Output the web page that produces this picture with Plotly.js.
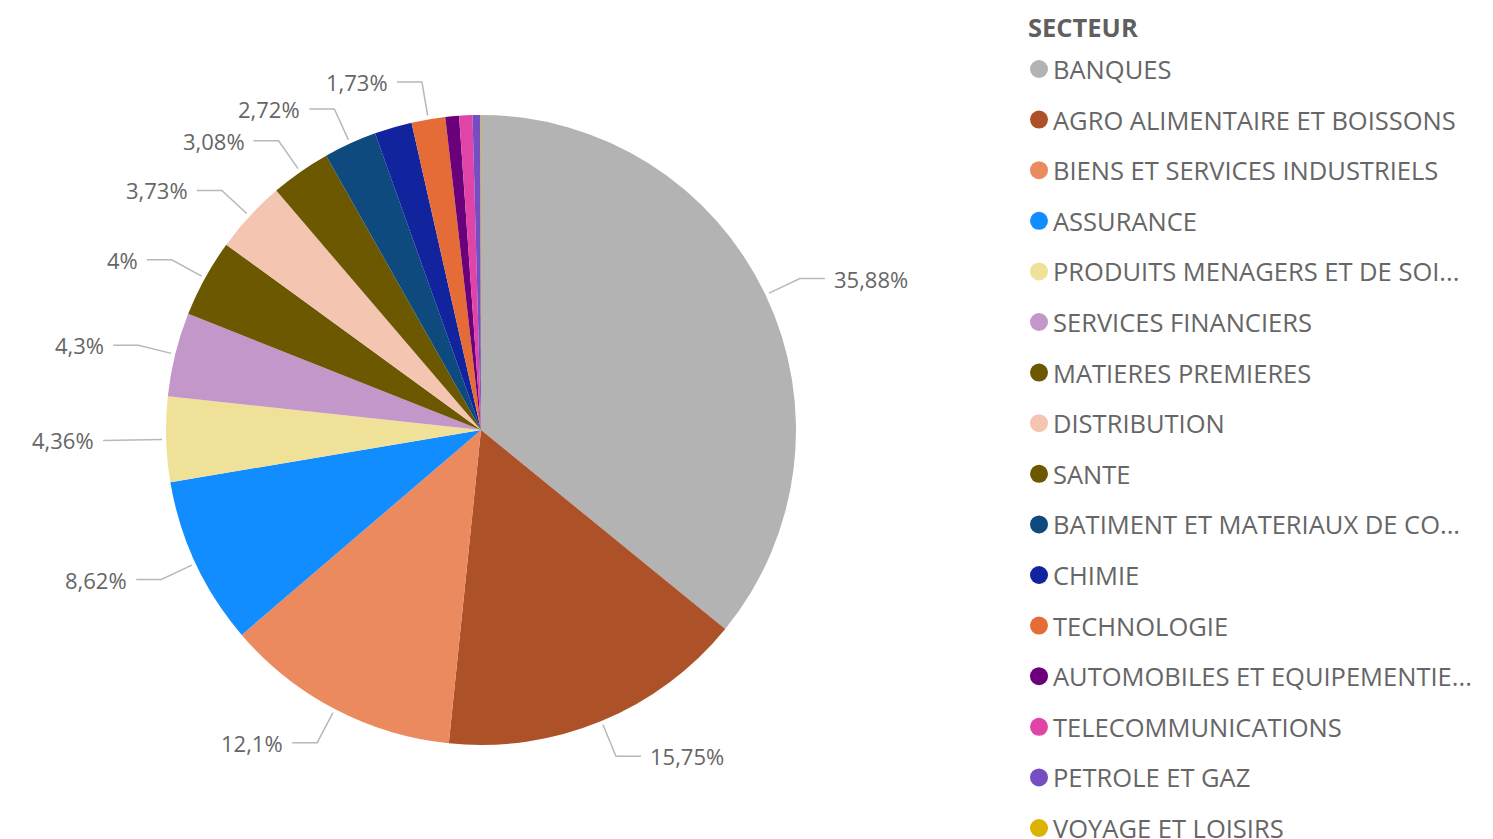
<!DOCTYPE html>
<html>
<head>
<meta charset="utf-8">
<script src="https://cdn.plot.ly/plotly-3.0.1.min.js"></script>
<style>html,body{margin:0;padding:0;background:#fff;}#chart{width:1493px;height:839px;}</style>
</head>
<body>
<div id="chart"></div>
<script>
// ---- data ----
const categories = [
  "BANQUES",
  "AGRO ALIMENTAIRE ET BOISSONS",
  "BIENS ET SERVICES INDUSTRIELS",
  "ASSURANCE",
  "PRODUITS MENAGERS ET DE SOI...",
  "SERVICES FINANCIERS",
  "MATIERES PREMIERES",
  "DISTRIBUTION",
  "SANTE",
  "BATIMENT ET MATERIAUX DE CO...",
  "CHIMIE",
  "TECHNOLOGIE",
  "AUTOMOBILES ET EQUIPEMENTIE...",
  "TELECOMMUNICATIONS",
  "PETROLE ET GAZ",
  "VOYAGE ET LOISIRS"
];
const shares = [35.88, 15.75, 12.1, 8.62, 4.36, 4.3, 4, 3.73, 3.08, 2.72, 1.92, 1.73, 0.7, 0.68, 0.4, 0.03];
const showLabel = [true, true, true, true, true, true, true, true, true, true, false, true, false, false, false, false];
const colors = [
  "#B3B3B3", "#AD5129", "#EB895F", "#118DFF", "#F0E199", "#C397CA",
  "#6B5800", "#F4C5B1", "#6B5800", "#0E4A7E", "#12239E", "#E66C37",
  "#6B007B", "#E044A7", "#744EC2", "#D9B300"
];
const legendTitle = "SECTEUR";

// ---- layout geometry ----
const W = 1493, H = 839;
const CX = 481, CY = 430, R = 315;
const FONT = "'Open Sans', 'Noto Sans', sans-serif";
const TEXT_COLOR = "#666666";

function fmtPct(v) {
  return String(Number(v.toFixed(2))).replace(".", ",") + "%";
}

const total = shares.reduce((a, b) => a + b, 0);

const pie = {
  type: "pie",
  labels: categories,
  values: shares,
  sort: false,
  direction: "clockwise",
  rotation: 0,
  textinfo: "none",
  hoverinfo: "label+percent",
  marker: { colors: colors, line: { width: 0 } },
  domain: { x: [(CX - R) / W, (CX + R) / W], y: [1 - (CY + R) / H, 1 - (CY - R) / H] },
  showlegend: false
};

// leader lines + data labels
const lx = [], ly = [];
const annotations = [];
let cum = 0;
shares.forEach((v, i) => {
  const mid = (cum + v / 2) / total;
  cum += v;
  if (!showLabel[i]) return;
  const th = 2 * Math.PI * mid;
  const s = Math.sin(th), c = Math.cos(th);
  const x1 = CX + (R + 4) * s, y1 = CY - (R + 4) * c;
  const x2 = CX + (R + 38) * s, y2 = CY - (R + 38) * c;
  const dir = s >= 0 ? 1 : -1;
  const x3 = x2 + dir * 25;
  lx.push(x1, x2, x3, null);
  ly.push(y1, y2, y2, null);
  annotations.push({
    x: x3 + dir * 7, y: y2, xref: "x", yref: "y",
    text: fmtPct(v / total * 100),
    showarrow: false,
    xanchor: dir > 0 ? "left" : "right", yanchor: "middle",
    font: { family: FONT, size: 22, color: TEXT_COLOR }
  });
});

const leaders = {
  type: "scatter", mode: "lines", x: lx, y: ly,
  line: { color: "#B8B8B8", width: 1.5 },
  hoverinfo: "skip", showlegend: false
};

// custom legend
const LEG_X = 1039, LEG_Y0 = 69, LEG_DY = 50.6;
const legY = categories.map((_, i) => LEG_Y0 + i * LEG_DY);
const legendDots = {
  type: "scatter", mode: "markers",
  x: categories.map(() => LEG_X), y: legY,
  marker: { size: 18, color: colors },
  hoverinfo: "skip", showlegend: false
};
categories.forEach((cat, i) => {
  annotations.push({
    x: LEG_X + 12, y: legY[i], xref: "x", yref: "y",
    text: cat, showarrow: false,
    xanchor: "left", yanchor: "middle",
    font: { family: FONT, size: 25.5, color: TEXT_COLOR }
  });
});
annotations.push({
  x: 1026, y: 27, xref: "x", yref: "y",
  text: "<b>" + legendTitle + "</b>", showarrow: false,
  xanchor: "left", yanchor: "middle",
  font: { family: FONT, size: 25.5, color: "#5F5F5F" }
});

const layout = {
  width: W, height: H,
  margin: { l: 0, r: 0, t: 0, b: 0, pad: 0 },
  paper_bgcolor: "#ffffff", plot_bgcolor: "rgba(0,0,0,0)",
  xaxis: { range: [0, W], visible: false, fixedrange: true, showgrid: false, zeroline: false },
  yaxis: { range: [H, 0], visible: false, fixedrange: true, showgrid: false, zeroline: false },
  showlegend: false,
  hovermode: false,
  annotations: annotations
};

Plotly.newPlot("chart", [pie, leaders, legendDots], layout, { displayModeBar: false, staticPlot: true });
</script>
</body>
</html>
